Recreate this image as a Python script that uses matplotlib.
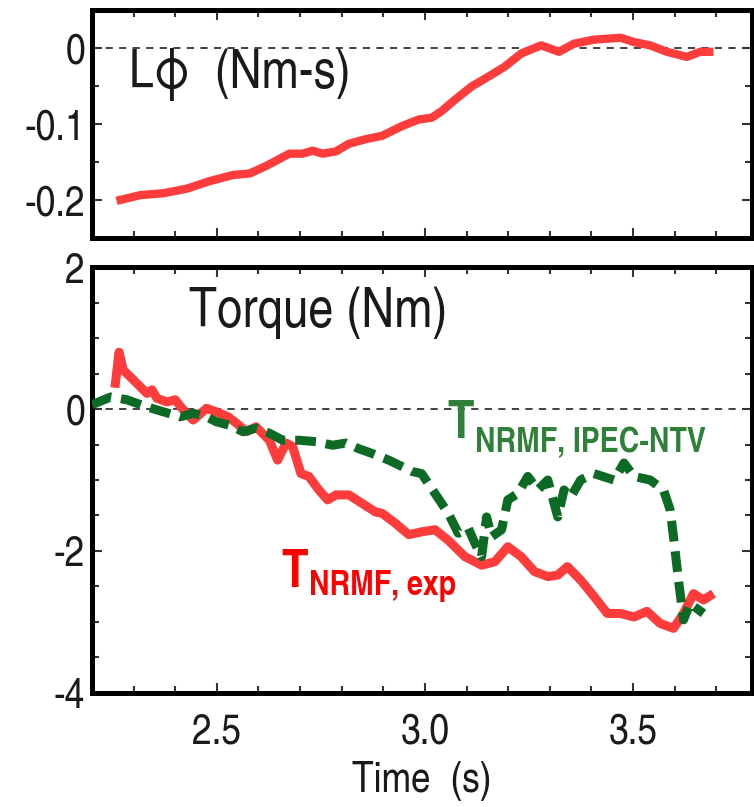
import matplotlib
matplotlib.use("Agg")
import matplotlib.pyplot as plt
from matplotlib.ticker import MultipleLocator

plt.rcParams['font.family'] = ['TeX Gyre Heros Cn', 'DejaVu Sans']

# angular momentum L_phi (Nm-s) vs time (s)
t_L = [2.259, 2.316, 2.372, 2.428, 2.483, 2.539, 2.579, 2.619, 2.674, 2.706,
       2.730, 2.754, 2.786, 2.817, 2.857, 2.897, 2.945, 2.985, 3.016, 3.040,
       3.072, 3.112, 3.152, 3.191, 3.231, 3.279, 3.322, 3.358, 3.406, 3.470,
       3.502, 3.541, 3.581, 3.629, 3.661, 3.693]
L_phi = [-0.201, -0.1935, -0.191, -0.185, -0.175, -0.167, -0.165, -0.155, -0.139, -0.139,
         -0.135, -0.139, -0.136, -0.126, -0.120, -0.1155, -0.1026, -0.094, -0.0917, -0.083,
         -0.068, -0.0506, -0.0377, -0.0247, -0.0073, 0.0035, -0.005, 0.0057, 0.011, 0.0135,
         0.0078, 0.0035, -0.005, -0.0117, -0.005, -0.005]

# T_NRMF, exp (Nm)
t_exp = [2.255, 2.265, 2.275, 2.308, 2.332, 2.344, 2.356, 2.380, 2.400, 2.416,
         2.443, 2.475, 2.499, 2.527, 2.547, 2.571, 2.594, 2.626, 2.646, 2.666,
         2.682, 2.702, 2.721, 2.745, 2.766, 2.786, 2.817, 2.849, 2.881, 2.897,
         2.929, 2.961, 2.992, 3.024, 3.056, 3.096, 3.136, 3.168, 3.199, 3.231,
         3.263, 3.295, 3.319, 3.342, 3.374, 3.406, 3.438, 3.470, 3.502, 3.533,
         3.565, 3.597, 3.621, 3.645, 3.669, 3.693]
T_exp = [0.30, 0.80, 0.55, 0.36, 0.22, 0.27, 0.15, 0.10, 0.13, 0.01,
         -0.155, 0.01, -0.04, -0.11, -0.20, -0.32, -0.25, -0.44, -0.72, -0.48,
         -0.53, -0.91, -0.95, -1.14, -1.28, -1.21, -1.21, -1.33, -1.45, -1.47,
         -1.61, -1.77, -1.73, -1.70, -1.85, -2.08, -2.20, -2.15, -1.94, -2.08,
         -2.29, -2.36, -2.34, -2.22, -2.41, -2.64, -2.88, -2.88, -2.93, -2.85,
         -3.02, -3.09, -2.88, -2.60, -2.69, -2.60]

# T_NRMF, IPEC-NTV (Nm)
t_ntv = [2.200, 2.245, 2.284, 2.332, 2.372, 2.412, 2.443, 2.475, 2.499, 2.531,
         2.563, 2.594, 2.626, 2.658, 2.698, 2.738, 2.778, 2.810, 2.841, 2.870,
         2.913, 2.969, 2.992, 3.024, 3.056, 3.080, 3.104, 3.120, 3.136, 3.148,
         3.160, 3.184, 3.199, 3.223, 3.247, 3.271, 3.295, 3.319, 3.334, 3.350,
         3.374, 3.406, 3.454, 3.478, 3.502, 3.541, 3.573, 3.589, 3.597, 3.609,
         3.621, 3.637, 3.669]
T_ntv = [0.06, 0.17, 0.13, 0.03, -0.04, -0.11, -0.06, -0.11, -0.18, -0.23,
         -0.32, -0.27, -0.34, -0.44, -0.44, -0.46, -0.51, -0.48, -0.56, -0.62,
         -0.72, -0.88, -0.91, -1.19, -1.47, -1.75, -1.68, -1.89, -2.08, -1.52,
         -1.80, -1.70, -1.28, -1.19, -0.95, -1.14, -1.00, -1.52, -1.14, -1.24,
         -1.00, -0.91, -1.00, -0.76, -0.95, -1.00, -1.14, -1.42, -1.80, -2.41,
         -2.97, -2.74, -2.88]

RED_LINE = '#ff3c3c'
GREEN_LINE = '#0c6a25'
GREEN_TEXT = '#2f8039'
TXT = '#1a1a1a'

fig = plt.figure(figsize=(7.54, 8.07), dpi=100)
ax1 = fig.add_axes([0.122, 0.705, 0.875, 0.2826])
ax2 = fig.add_axes([0.122, 0.1413, 0.875, 0.5278])


def style_axes(ax):
    for s in ax.spines.values():
        s.set_linewidth(3.6)
        s.set_color('black')
    ax.tick_params(which='both', direction='in', top=True, right=True,
                   width=1.5, colors='#333333', labelcolor=TXT, labelsize=31, pad=5)
    ax.tick_params(which='major', length=7)
    ax.tick_params(which='minor', length=5)
    ax.xaxis.set_major_locator(MultipleLocator(0.5))
    ax.xaxis.set_minor_locator(MultipleLocator(0.1))
    ax.set_xlim(2.2, 3.785)


# top panel: L_phi
style_axes(ax1)
ax1.axhline(0, color='#333333', lw=1.3, dashes=(4, 3.5), zorder=1)
ax1.plot(t_L, L_phi, color=RED_LINE, lw=6, solid_capstyle='butt', zorder=3)
ax1.set_ylim(-0.25, 0.05)
ax1.yaxis.set_minor_locator(MultipleLocator(0.05))
ax1.set_yticks([-0.2, -0.1, 0])
ax1.set_yticklabels(['-0.2', '-0.1', '0'])
ax1.tick_params(axis='x', labelbottom=False)
ax1.text(2.289, -0.052, 'L\u03d5  (Nm-s)', fontsize=39, color=TXT, va='baseline', ha='left')

# bottom panel: torque
style_axes(ax2)
ax2.axhline(0, color='#333333', lw=1.3, dashes=(4, 3.5), zorder=1)
ax2.plot(t_exp, T_exp, color=RED_LINE, lw=6.5, solid_capstyle='butt', zorder=2)
ax2.plot(t_ntv, T_ntv, color=GREEN_LINE, lw=6.5, dashes=(2.3, 1.1),
         dash_capstyle='butt', zorder=3)
ax2.set_ylim(-4, 2)
ax2.yaxis.set_minor_locator(MultipleLocator(0.5))
ax2.set_yticks([-4, -2, 0, 2])
ax2.set_yticklabels(['-4', '-2', '0', '2'])
ax2.set_xticks([2.5, 3.0, 3.5])
ax2.set_xticklabels(['2.5', '3.0', '3.5'])
ax2.tick_params(axis='x', pad=14)
ax2.set_xlabel('Time  (s)', fontsize=31, color=TXT, labelpad=6)
ax2.text(2.433, 1.15, 'Torque (Nm)', fontsize=40, color=TXT, va='baseline', ha='left')

ax2.text(2.655, -2.51, 'T', fontsize=38, fontweight='bold', color='#ff0000', va='baseline', ha='left')
ax2.text(2.721, -2.62, 'NRMF, exp', fontsize=25, fontweight='bold', color='#ff0000', va='baseline', ha='left')
ax2.text(3.054, -0.41, 'T', fontsize=38, fontweight='bold', color=GREEN_TEXT, va='baseline', ha='left')
ax2.text(3.119, -0.61, 'NRMF, IPEC-NTV', fontsize=25, fontweight='bold', color=GREEN_TEXT, va='baseline', ha='left')

fig.savefig('out.png', dpi=100)
